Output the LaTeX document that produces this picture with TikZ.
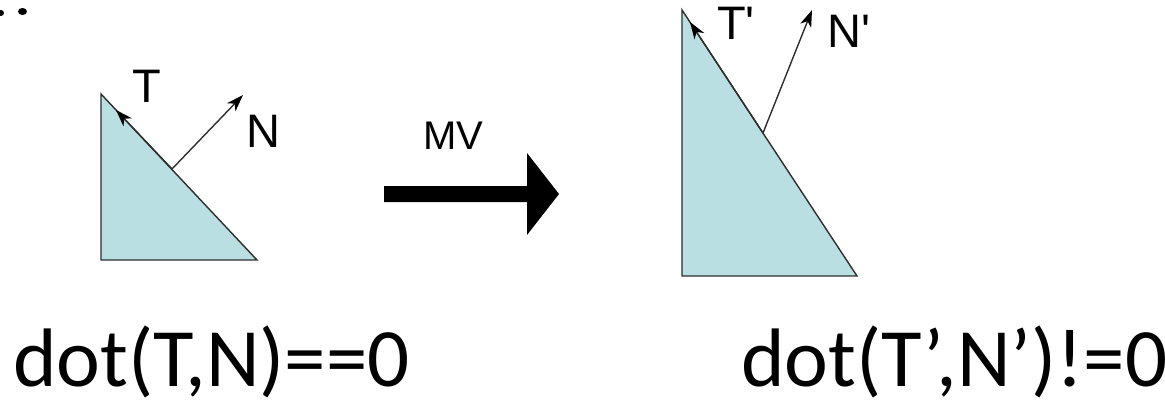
\documentclass[tikz,border=0pt]{standalone}
\usepackage{fontspec}
\setmainfont{Carlito}
\newfontfamily\arialf{Liberation Sans}
\usetikzlibrary{calc}
\definecolor{tri}{HTML}{BADFE2}
\definecolor{edge}{HTML}{2E2E2E}
\tikzset{
  triangle/.style={fill=tri, draw=edge, line width=1.4pt, line join=miter},
  vec/.style={draw=edge, line width=1.4pt},
  tip/.style={fill=black},
  lbl/.style={inner sep=0pt, font=\arialf\fontsize{47}{47}\selectfont},
  mvlbl/.style={inner sep=0pt, font=\arialf\fontsize{40}{40}\selectfont},
  eq/.style={inner sep=0pt, anchor=base west, font=\fontsize{83}{83}\selectfont},
  bigarrow/.style={fill=black}
}
\newcommand\myvec[2]{%
  \draw[vec] (#1) -- ($(#2)!6pt!(#1)$);
  \fill[tip] (#2) -- ($(#2)!18pt!19:(#1)$) -- ($(#2)!12pt!(#1)$) -- ($(#2)!18pt!-19:(#1)$) -- cycle;}
\begin{document}
\begin{tikzpicture}[x=1pt,y=-1pt]
\useasboundingbox (0,0) rectangle (1165,400);
% top-left fragments
\fill (1,13) ellipse [x radius=3, y radius=3];
\fill (22.5,11.5) ellipse [x radius=4.5, y radius=3.5];
% left triangle
\coordinate (A1) at (101,94);
\coordinate (B1) at (101,260);
\coordinate (C1) at (257,260);
\filldraw[triangle] (A1) -- (B1) -- (C1) -- cycle;
\coordinate (base1) at (172,169);
\coordinate (tT) at (116,110);
\coordinate (tN) at (243,95);
\myvec{base1}{tT}
\myvec{base1}{tN}
\node[lbl] (T) at (147,86) {T};
\node[lbl] (N) at (263.5,131.5) {N};
% big arrow
\fill[bigarrow] (384,186) -- (527,186) -- (527,153) -- (559,194) -- (527,235) -- (527,202) -- (384,202) -- cycle;
\node[mvlbl] (MV) at (453,136) {MV};
% right triangle
\coordinate (A2) at (682,10);
\coordinate (B2) at (682,276);
\coordinate (C2) at (857,276);
\filldraw[triangle] (A2) -- (B2) -- (C2) -- cycle;
\coordinate (base2) at (763,133);
\coordinate (tT2) at (690,22);
\coordinate (tN2) at (812,10);
\myvec{base2}{tT2}
\myvec{base2}{tN2}
\node[lbl] (T2) at (736,23) {T'};
\node[lbl] (N2) at (849,31) {N'};
% equations
\node[eq] (eq1) at (13,386) {dot(T,N)==0};
\node[eq] (eq2) at (741,386) {dot(T’,N’)!=0};
\end{tikzpicture}
\end{document}
